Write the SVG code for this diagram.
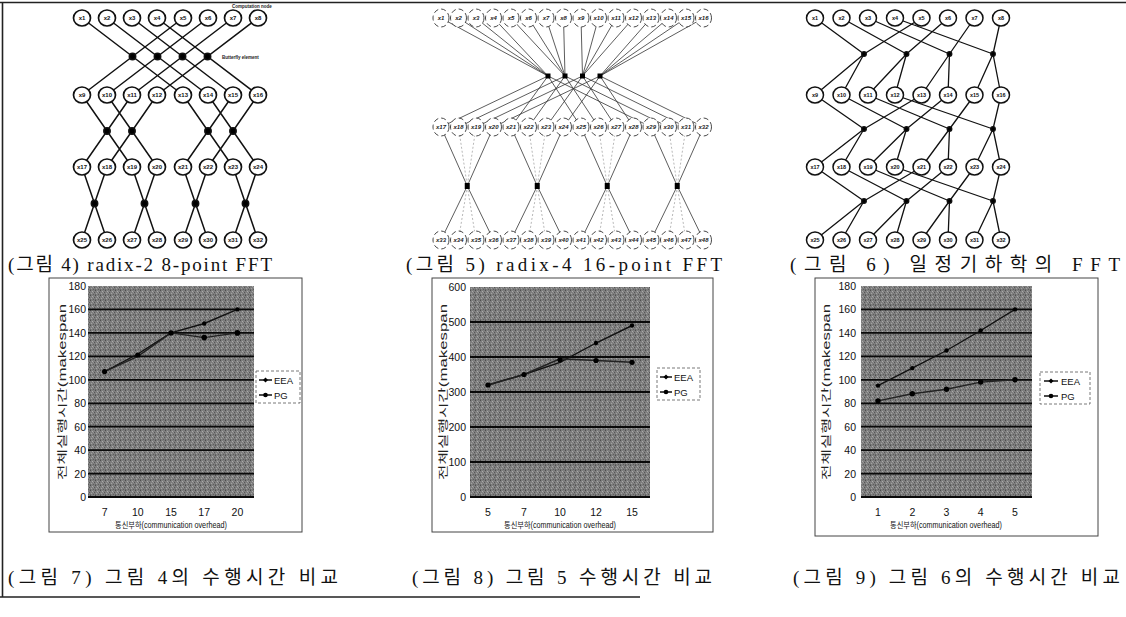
<svg xmlns="http://www.w3.org/2000/svg" width="1126" height="617" viewBox="0 0 1126 617">
<defs>
<pattern id="grain" width="5" height="5" patternUnits="userSpaceOnUse"><rect width="5" height="5" fill="#7e7e7e"/><rect x="0" y="0" width="1" height="1" fill="#4e4e4e"/><rect x="2" y="1" width="1" height="1" fill="#ababab"/><rect x="4" y="2" width="1" height="1" fill="#555"/><rect x="1" y="3" width="1" height="1" fill="#a2a2a2"/><rect x="3" y="4" width="1" height="1" fill="#5e5e5e"/><rect x="3" y="2" width="1" height="1" fill="#959595"/><rect x="0" y="4" width="1" height="1" fill="#666"/></pattern>
</defs>
<style>
.bd{stroke:#222;stroke-width:1.6;fill:none}
.w1{stroke:#111;stroke-width:1.5;fill:none}
.w2{stroke:#333;stroke-width:0.8;fill:none}
.w2i{stroke:#999;stroke-width:0.7;fill:none;stroke-dasharray:2 2}
.w3{stroke:#111;stroke-width:1.3;fill:none}
.c1{fill:#fff;stroke:#111;stroke-width:1.7}
.c2{fill:#fff;stroke:#333;stroke-width:0.9;stroke-dasharray:5 3}
.c3{fill:#fff;stroke:#111;stroke-width:1.5}
.t1{font-family:"Liberation Sans",Arial,sans-serif;font-size:6px;font-weight:bold;text-anchor:middle;fill:#111}
.t2{font-family:"Liberation Sans",Arial,sans-serif;font-size:6px;font-weight:bold;font-style:italic;text-anchor:middle;fill:#222}
.t3{font-family:"Liberation Sans",Arial,sans-serif;font-size:5.5px;font-weight:bold;text-anchor:middle;fill:#111}
.dot{fill:#000}
.cap{font-family:"Liberation Serif","Noto Sans CJK KR",serif;font-size:19px;fill:#111}
.frame{fill:#fff;stroke:#444;stroke-width:1}
.grid{stroke:#0a0a0a;stroke-width:1.8;fill:none}
.yl{font-family:"Liberation Sans",Arial,sans-serif;font-size:10.5px;text-anchor:end;fill:#111}
.xl{font-family:"Liberation Sans",Arial,sans-serif;font-size:10.5px;text-anchor:middle;fill:#111}
.yt{font-family:"Liberation Sans","Noto Sans CJK KR",sans-serif;font-size:10px;text-anchor:middle;fill:#222}
.xt{font-family:"Liberation Sans","Noto Sans CJK KR",sans-serif;font-size:8.5px;text-anchor:middle;fill:#111}
.leg{fill:#fff;stroke:#555;stroke-width:0.8;stroke-dasharray:3 2}
.lt{font-family:"Liberation Sans",Arial,sans-serif;font-size:9.5px;fill:#111}
.s1{stroke:#111;stroke-width:1.4;fill:none}
.s2{stroke:#222;stroke-width:1.4;fill:none}
.tiny{font-family:"Liberation Sans",Arial,sans-serif;font-size:4.5px;font-weight:bold;fill:#222}
</style>
<rect width="1126" height="617" fill="#fff"/>
<g id="border">
<path class="bd" d="M0 2.5H1126 M2.5 2V597 M0 597H640"/>
</g>

<!-- Diagram 1 connectors -->
<g id="d1-edges" class="w1">
<path d="M82 18L183 95 M183 18L82 95 M107 18L208 95 M208 18L107 95 M132 18L233 95 M233 18L132 95 M157 18L258 95 M258 18L157 95"/>
<path d="M82 95L132 167 M132 95L82 167 M107 95L157 167 M157 95L107 167 M183 95L233 167 M233 95L183 167 M208 95L258 167 M258 95L208 167"/>
<path d="M82 167L107 240 M107 167L82 240 M132 167L157 240 M157 167L132 240 M183 167L208 240 M208 167L183 240 M233 167L258 240 M258 167L233 240"/>
<g class="dot"><circle cx="132.5" cy="56.5" r="3.2"/><circle cx="157.5" cy="56.5" r="3.2"/><circle cx="182.5" cy="56.5" r="3.2"/><circle cx="207.5" cy="56.5" r="3.2"/><circle cx="107" cy="131" r="3.2"/><circle cx="132" cy="131" r="3.2"/><circle cx="208" cy="131" r="3.2"/><circle cx="233" cy="131" r="3.2"/><circle cx="94.5" cy="203.5" r="3.2"/><circle cx="144.5" cy="203.5" r="3.2"/><circle cx="195.5" cy="203.5" r="3.2"/><circle cx="245.5" cy="203.5" r="3.2"/></g>
</g>
<text class="tiny" x="222" y="58.5">Butterfly element</text>
<text class="tiny" x="232" y="8">Computation node</text>

<!-- Diagram 1 nodes -->
<g id="d1-x1"><ellipse class="c1" cx="82" cy="18" rx="8.5" ry="8"/><text class="t1" x="82" y="20">x1</text></g>
<g id="d1-x2"><ellipse class="c1" cx="107" cy="18" rx="8.5" ry="8"/><text class="t1" x="107" y="20">x2</text></g>
<g id="d1-x3"><ellipse class="c1" cx="132" cy="18" rx="8.5" ry="8"/><text class="t1" x="132" y="20">x3</text></g>
<g id="d1-x4"><ellipse class="c1" cx="157" cy="18" rx="8.5" ry="8"/><text class="t1" x="157" y="20">x4</text></g>
<g id="d1-x5"><ellipse class="c1" cx="183" cy="18" rx="8.5" ry="8"/><text class="t1" x="183" y="20">x5</text></g>
<g id="d1-x6"><ellipse class="c1" cx="208" cy="18" rx="8.5" ry="8"/><text class="t1" x="208" y="20">x6</text></g>
<g id="d1-x7"><ellipse class="c1" cx="233" cy="18" rx="8.5" ry="8"/><text class="t1" x="233" y="20">x7</text></g>
<g id="d1-x8"><ellipse class="c1" cx="258" cy="18" rx="8.5" ry="8"/><text class="t1" x="258" y="20">x8</text></g>
<g id="d1-x9"><ellipse class="c1" cx="82" cy="95" rx="8.5" ry="8"/><text class="t1" x="82" y="97">x9</text></g>
<g id="d1-x10"><ellipse class="c1" cx="107" cy="95" rx="8.5" ry="8"/><text class="t1" x="107" y="97">x10</text></g>
<g id="d1-x11"><ellipse class="c1" cx="132" cy="95" rx="8.5" ry="8"/><text class="t1" x="132" y="97">x11</text></g>
<g id="d1-x12"><ellipse class="c1" cx="157" cy="95" rx="8.5" ry="8"/><text class="t1" x="157" y="97">x12</text></g>
<g id="d1-x13"><ellipse class="c1" cx="183" cy="95" rx="8.5" ry="8"/><text class="t1" x="183" y="97">x13</text></g>
<g id="d1-x14"><ellipse class="c1" cx="208" cy="95" rx="8.5" ry="8"/><text class="t1" x="208" y="97">x14</text></g>
<g id="d1-x15"><ellipse class="c1" cx="233" cy="95" rx="8.5" ry="8"/><text class="t1" x="233" y="97">x15</text></g>
<g id="d1-x16"><ellipse class="c1" cx="258" cy="95" rx="8.5" ry="8"/><text class="t1" x="258" y="97">x16</text></g>
<g id="d1-x17"><ellipse class="c1" cx="82" cy="167" rx="8.5" ry="8"/><text class="t1" x="82" y="169">x17</text></g>
<g id="d1-x18"><ellipse class="c1" cx="107" cy="167" rx="8.5" ry="8"/><text class="t1" x="107" y="169">x18</text></g>
<g id="d1-x19"><ellipse class="c1" cx="132" cy="167" rx="8.5" ry="8"/><text class="t1" x="132" y="169">x19</text></g>
<g id="d1-x20"><ellipse class="c1" cx="157" cy="167" rx="8.5" ry="8"/><text class="t1" x="157" y="169">x20</text></g>
<g id="d1-x21"><ellipse class="c1" cx="183" cy="167" rx="8.5" ry="8"/><text class="t1" x="183" y="169">x21</text></g>
<g id="d1-x22"><ellipse class="c1" cx="208" cy="167" rx="8.5" ry="8"/><text class="t1" x="208" y="169">x22</text></g>
<g id="d1-x23"><ellipse class="c1" cx="233" cy="167" rx="8.5" ry="8"/><text class="t1" x="233" y="169">x23</text></g>
<g id="d1-x24"><ellipse class="c1" cx="258" cy="167" rx="8.5" ry="8"/><text class="t1" x="258" y="169">x24</text></g>
<g id="d1-x25"><ellipse class="c1" cx="82" cy="240" rx="8.5" ry="8"/><text class="t1" x="82" y="242">x25</text></g>
<g id="d1-x26"><ellipse class="c1" cx="107" cy="240" rx="8.5" ry="8"/><text class="t1" x="107" y="242">x26</text></g>
<g id="d1-x27"><ellipse class="c1" cx="132" cy="240" rx="8.5" ry="8"/><text class="t1" x="132" y="242">x27</text></g>
<g id="d1-x28"><ellipse class="c1" cx="157" cy="240" rx="8.5" ry="8"/><text class="t1" x="157" y="242">x28</text></g>
<g id="d1-x29"><ellipse class="c1" cx="183" cy="240" rx="8.5" ry="8"/><text class="t1" x="183" y="242">x29</text></g>
<g id="d1-x30"><ellipse class="c1" cx="208" cy="240" rx="8.5" ry="8"/><text class="t1" x="208" y="242">x30</text></g>
<g id="d1-x31"><ellipse class="c1" cx="233" cy="240" rx="8.5" ry="8"/><text class="t1" x="233" y="242">x31</text></g>
<g id="d1-x32"><ellipse class="c1" cx="258" cy="240" rx="8.5" ry="8"/><text class="t1" x="258" y="242">x32</text></g>

<!-- Diagram 2 connectors -->
<g id="d2-edges">
<path class="w2" d="M441 18L548 76 M458.5 18L548 76 M476 18L548 76 M493.5 18L548 76 M548 76L441 127 M548 76L511 127 M548 76L581 127 M548 76L651 127 M511 18L565 76 M528.5 18L565 76 M546 18L565 76 M563.5 18L565 76 M565 76L458.5 127 M565 76L528.5 127 M565 76L598.5 127 M565 76L668.5 127 M581 18L582.5 76 M598.5 18L582.5 76 M616 18L582.5 76 M633.5 18L582.5 76 M582.5 76L476 127 M582.5 76L546 127 M582.5 76L616 127 M582.5 76L686 127 M651 18L600 76 M668.5 18L600 76 M686 18L600 76 M703.5 18L600 76 M600 76L493.5 127 M600 76L563.5 127 M600 76L633.5 127 M600 76L703.5 127"/>
<path class="w2" d="M441 127L467.25 186L493.5 240 M493.5 127L467.25 186L441 240 M511 127L537.25 186L563.5 240 M563.5 127L537.25 186L511 240 M581 127L607.25 186L633.5 240 M633.5 127L607.25 186L581 240 M651 127L677.25 186L703.5 240 M703.5 127L677.25 186L651 240"/>
<path class="w2i" d="M458.5 127L467.25 186L476 240 M476 127L467.25 186L458.5 240 M528.5 127L537.25 186L546 240 M546 127L537.25 186L528.5 240 M598.5 127L607.25 186L616 240 M616 127L607.25 186L598.5 240 M668.5 127L677.25 186L686 240 M686 127L677.25 186L668.5 240"/>
<g class="dot"><rect x="545.5" y="73.5" width="5" height="5"/><rect x="562.5" y="73.5" width="5" height="5"/><rect x="580" y="73.5" width="5" height="5"/><rect x="597.5" y="73.5" width="5" height="5"/><rect x="464.75" y="183" width="5" height="6"/><rect x="534.75" y="183" width="5" height="6"/><rect x="604.75" y="183" width="5" height="6"/><rect x="674.75" y="183" width="5" height="6"/></g>
</g>

<!-- Diagram 2 nodes -->
<g id="d2-x1"><ellipse class="c2" cx="441" cy="18" rx="8" ry="9"/><text class="t2" x="441" y="20">x1</text></g>
<g id="d2-x2"><ellipse class="c2" cx="458.5" cy="18" rx="8" ry="9"/><text class="t2" x="458.5" y="20">x2</text></g>
<g id="d2-x3"><ellipse class="c2" cx="476" cy="18" rx="8" ry="9"/><text class="t2" x="476" y="20">x3</text></g>
<g id="d2-x4"><ellipse class="c2" cx="493.5" cy="18" rx="8" ry="9"/><text class="t2" x="493.5" y="20">x4</text></g>
<g id="d2-x5"><ellipse class="c2" cx="511" cy="18" rx="8" ry="9"/><text class="t2" x="511" y="20">x5</text></g>
<g id="d2-x6"><ellipse class="c2" cx="528.5" cy="18" rx="8" ry="9"/><text class="t2" x="528.5" y="20">x6</text></g>
<g id="d2-x7"><ellipse class="c2" cx="546" cy="18" rx="8" ry="9"/><text class="t2" x="546" y="20">x7</text></g>
<g id="d2-x8"><ellipse class="c2" cx="563.5" cy="18" rx="8" ry="9"/><text class="t2" x="563.5" y="20">x8</text></g>
<g id="d2-x9"><ellipse class="c2" cx="581" cy="18" rx="8" ry="9"/><text class="t2" x="581" y="20">x9</text></g>
<g id="d2-x10"><ellipse class="c2" cx="598.5" cy="18" rx="8" ry="9"/><text class="t2" x="598.5" y="20">x10</text></g>
<g id="d2-x11"><ellipse class="c2" cx="616" cy="18" rx="8" ry="9"/><text class="t2" x="616" y="20">x11</text></g>
<g id="d2-x12"><ellipse class="c2" cx="633.5" cy="18" rx="8" ry="9"/><text class="t2" x="633.5" y="20">x12</text></g>
<g id="d2-x13"><ellipse class="c2" cx="651" cy="18" rx="8" ry="9"/><text class="t2" x="651" y="20">x13</text></g>
<g id="d2-x14"><ellipse class="c2" cx="668.5" cy="18" rx="8" ry="9"/><text class="t2" x="668.5" y="20">x14</text></g>
<g id="d2-x15"><ellipse class="c2" cx="686" cy="18" rx="8" ry="9"/><text class="t2" x="686" y="20">x15</text></g>
<g id="d2-x16"><ellipse class="c2" cx="703.5" cy="18" rx="8" ry="9"/><text class="t2" x="703.5" y="20">x16</text></g>
<g id="d2-x17"><ellipse class="c2" cx="441" cy="127" rx="8" ry="9"/><text class="t2" x="441" y="129">x17</text></g>
<g id="d2-x18"><ellipse class="c2" cx="458.5" cy="127" rx="8" ry="9"/><text class="t2" x="458.5" y="129">x18</text></g>
<g id="d2-x19"><ellipse class="c2" cx="476" cy="127" rx="8" ry="9"/><text class="t2" x="476" y="129">x19</text></g>
<g id="d2-x20"><ellipse class="c2" cx="493.5" cy="127" rx="8" ry="9"/><text class="t2" x="493.5" y="129">x20</text></g>
<g id="d2-x21"><ellipse class="c2" cx="511" cy="127" rx="8" ry="9"/><text class="t2" x="511" y="129">x21</text></g>
<g id="d2-x22"><ellipse class="c2" cx="528.5" cy="127" rx="8" ry="9"/><text class="t2" x="528.5" y="129">x22</text></g>
<g id="d2-x23"><ellipse class="c2" cx="546" cy="127" rx="8" ry="9"/><text class="t2" x="546" y="129">x23</text></g>
<g id="d2-x24"><ellipse class="c2" cx="563.5" cy="127" rx="8" ry="9"/><text class="t2" x="563.5" y="129">x24</text></g>
<g id="d2-x25"><ellipse class="c2" cx="581" cy="127" rx="8" ry="9"/><text class="t2" x="581" y="129">x25</text></g>
<g id="d2-x26"><ellipse class="c2" cx="598.5" cy="127" rx="8" ry="9"/><text class="t2" x="598.5" y="129">x26</text></g>
<g id="d2-x27"><ellipse class="c2" cx="616" cy="127" rx="8" ry="9"/><text class="t2" x="616" y="129">x27</text></g>
<g id="d2-x28"><ellipse class="c2" cx="633.5" cy="127" rx="8" ry="9"/><text class="t2" x="633.5" y="129">x28</text></g>
<g id="d2-x29"><ellipse class="c2" cx="651" cy="127" rx="8" ry="9"/><text class="t2" x="651" y="129">x29</text></g>
<g id="d2-x30"><ellipse class="c2" cx="668.5" cy="127" rx="8" ry="9"/><text class="t2" x="668.5" y="129">x30</text></g>
<g id="d2-x31"><ellipse class="c2" cx="686" cy="127" rx="8" ry="9"/><text class="t2" x="686" y="129">x31</text></g>
<g id="d2-x32"><ellipse class="c2" cx="703.5" cy="127" rx="8" ry="9"/><text class="t2" x="703.5" y="129">x32</text></g>
<g id="d2-x33"><ellipse class="c2" cx="441" cy="240" rx="8" ry="9"/><text class="t2" x="441" y="242">x33</text></g>
<g id="d2-x34"><ellipse class="c2" cx="458.5" cy="240" rx="8" ry="9"/><text class="t2" x="458.5" y="242">x34</text></g>
<g id="d2-x35"><ellipse class="c2" cx="476" cy="240" rx="8" ry="9"/><text class="t2" x="476" y="242">x35</text></g>
<g id="d2-x36"><ellipse class="c2" cx="493.5" cy="240" rx="8" ry="9"/><text class="t2" x="493.5" y="242">x36</text></g>
<g id="d2-x37"><ellipse class="c2" cx="511" cy="240" rx="8" ry="9"/><text class="t2" x="511" y="242">x37</text></g>
<g id="d2-x38"><ellipse class="c2" cx="528.5" cy="240" rx="8" ry="9"/><text class="t2" x="528.5" y="242">x38</text></g>
<g id="d2-x39"><ellipse class="c2" cx="546" cy="240" rx="8" ry="9"/><text class="t2" x="546" y="242">x39</text></g>
<g id="d2-x40"><ellipse class="c2" cx="563.5" cy="240" rx="8" ry="9"/><text class="t2" x="563.5" y="242">x40</text></g>
<g id="d2-x41"><ellipse class="c2" cx="581" cy="240" rx="8" ry="9"/><text class="t2" x="581" y="242">x41</text></g>
<g id="d2-x42"><ellipse class="c2" cx="598.5" cy="240" rx="8" ry="9"/><text class="t2" x="598.5" y="242">x42</text></g>
<g id="d2-x43"><ellipse class="c2" cx="616" cy="240" rx="8" ry="9"/><text class="t2" x="616" y="242">x43</text></g>
<g id="d2-x44"><ellipse class="c2" cx="633.5" cy="240" rx="8" ry="9"/><text class="t2" x="633.5" y="242">x44</text></g>
<g id="d2-x45"><ellipse class="c2" cx="651" cy="240" rx="8" ry="9"/><text class="t2" x="651" y="242">x45</text></g>
<g id="d2-x46"><ellipse class="c2" cx="668.5" cy="240" rx="8" ry="9"/><text class="t2" x="668.5" y="242">x46</text></g>
<g id="d2-x47"><ellipse class="c2" cx="686" cy="240" rx="8" ry="9"/><text class="t2" x="686" y="242">x47</text></g>
<g id="d2-x48"><ellipse class="c2" cx="703.5" cy="240" rx="8" ry="9"/><text class="t2" x="703.5" y="242">x48</text></g>

<!-- Diagram 3 connectors -->
<g id="d3-edges" class="w3">
<path d="M815 18L864 54 M921.5 18L864 54 M864 54L815 95 M864 54L841.5 95 M841.5 18L906.5 54 M948 18L906.5 54 M906.5 54L868 95 M906.5 54L895 95 M868 18L949.5 54 M974.5 18L949.5 54 M949.5 54L921.5 95 M949.5 54L948 95 M895 18L993 54 M1001 18L993 54 M993 54L974.5 95 M993 54L1001 95"/>
<path d="M815 95L864 129 M921.5 95L864 129 M864 129L815 167 M864 129L841.5 167 M841.5 95L906.5 129 M948 95L906.5 129 M906.5 129L868 167 M906.5 129L895 167 M868 95L949.5 129 M974.5 95L949.5 129 M949.5 129L921.5 167 M949.5 129L948 167 M895 95L993 129 M1001 95L993 129 M993 129L974.5 167 M993 129L1001 167"/>
<path d="M815 167L864 201 M921.5 167L864 201 M864 201L815 240 M864 201L841.5 240 M841.5 167L906.5 201 M948 167L906.5 201 M906.5 201L868 240 M906.5 201L895 240 M868 167L949.5 201 M974.5 167L949.5 201 M949.5 201L921.5 240 M949.5 201L948 240 M895 167L993 201 M1001 167L993 201 M993 201L974.5 240 M993 201L1001 240"/>
<g class="dot"><circle cx="864" cy="54" r="2.3"/><circle cx="906.5" cy="54" r="2.3"/><circle cx="949.5" cy="54" r="2.3"/><circle cx="993" cy="54" r="2.3"/><circle cx="864" cy="129" r="2.3"/><circle cx="906.5" cy="129" r="2.3"/><circle cx="949.5" cy="129" r="2.3"/><circle cx="993" cy="129" r="2.3"/><circle cx="864" cy="201" r="2.3"/><circle cx="906.5" cy="201" r="2.3"/><circle cx="949.5" cy="201" r="2.3"/><circle cx="993" cy="201" r="2.3"/></g>
</g>

<!-- Diagram 3 nodes -->
<g id="d3-x1"><ellipse class="c3" cx="815" cy="18" rx="8.5" ry="8"/><text class="t3" x="815" y="20">x1</text></g>
<g id="d3-x2"><ellipse class="c3" cx="841.5" cy="18" rx="8.5" ry="8"/><text class="t3" x="841.5" y="20">x2</text></g>
<g id="d3-x3"><ellipse class="c3" cx="868" cy="18" rx="8.5" ry="8"/><text class="t3" x="868" y="20">x3</text></g>
<g id="d3-x4"><ellipse class="c3" cx="895" cy="18" rx="8.5" ry="8"/><text class="t3" x="895" y="20">x4</text></g>
<g id="d3-x5"><ellipse class="c3" cx="921.5" cy="18" rx="8.5" ry="8"/><text class="t3" x="921.5" y="20">x5</text></g>
<g id="d3-x6"><ellipse class="c3" cx="948" cy="18" rx="8.5" ry="8"/><text class="t3" x="948" y="20">x6</text></g>
<g id="d3-x7"><ellipse class="c3" cx="974.5" cy="18" rx="8.5" ry="8"/><text class="t3" x="974.5" y="20">x7</text></g>
<g id="d3-x8"><ellipse class="c3" cx="1001" cy="18" rx="8.5" ry="8"/><text class="t3" x="1001" y="20">x8</text></g>
<g id="d3-x9"><ellipse class="c3" cx="815" cy="95" rx="8.5" ry="8"/><text class="t3" x="815" y="97">x9</text></g>
<g id="d3-x10"><ellipse class="c3" cx="841.5" cy="95" rx="8.5" ry="8"/><text class="t3" x="841.5" y="97">x10</text></g>
<g id="d3-x11"><ellipse class="c3" cx="868" cy="95" rx="8.5" ry="8"/><text class="t3" x="868" y="97">x11</text></g>
<g id="d3-x12"><ellipse class="c3" cx="895" cy="95" rx="8.5" ry="8"/><text class="t3" x="895" y="97">x12</text></g>
<g id="d3-x13"><ellipse class="c3" cx="921.5" cy="95" rx="8.5" ry="8"/><text class="t3" x="921.5" y="97">x13</text></g>
<g id="d3-x14"><ellipse class="c3" cx="948" cy="95" rx="8.5" ry="8"/><text class="t3" x="948" y="97">x14</text></g>
<g id="d3-x15"><ellipse class="c3" cx="974.5" cy="95" rx="8.5" ry="8"/><text class="t3" x="974.5" y="97">x15</text></g>
<g id="d3-x16"><ellipse class="c3" cx="1001" cy="95" rx="8.5" ry="8"/><text class="t3" x="1001" y="97">x16</text></g>
<g id="d3-x17"><ellipse class="c3" cx="815" cy="167" rx="8.5" ry="8"/><text class="t3" x="815" y="169">x17</text></g>
<g id="d3-x18"><ellipse class="c3" cx="841.5" cy="167" rx="8.5" ry="8"/><text class="t3" x="841.5" y="169">x18</text></g>
<g id="d3-x19"><ellipse class="c3" cx="868" cy="167" rx="8.5" ry="8"/><text class="t3" x="868" y="169">x19</text></g>
<g id="d3-x20"><ellipse class="c3" cx="895" cy="167" rx="8.5" ry="8"/><text class="t3" x="895" y="169">x20</text></g>
<g id="d3-x21"><ellipse class="c3" cx="921.5" cy="167" rx="8.5" ry="8"/><text class="t3" x="921.5" y="169">x21</text></g>
<g id="d3-x22"><ellipse class="c3" cx="948" cy="167" rx="8.5" ry="8"/><text class="t3" x="948" y="169">x22</text></g>
<g id="d3-x23"><ellipse class="c3" cx="974.5" cy="167" rx="8.5" ry="8"/><text class="t3" x="974.5" y="169">x23</text></g>
<g id="d3-x24"><ellipse class="c3" cx="1001" cy="167" rx="8.5" ry="8"/><text class="t3" x="1001" y="169">x24</text></g>
<g id="d3-x25"><ellipse class="c3" cx="815" cy="240" rx="8.5" ry="8"/><text class="t3" x="815" y="242">x25</text></g>
<g id="d3-x26"><ellipse class="c3" cx="841.5" cy="240" rx="8.5" ry="8"/><text class="t3" x="841.5" y="242">x26</text></g>
<g id="d3-x27"><ellipse class="c3" cx="868" cy="240" rx="8.5" ry="8"/><text class="t3" x="868" y="242">x27</text></g>
<g id="d3-x28"><ellipse class="c3" cx="895" cy="240" rx="8.5" ry="8"/><text class="t3" x="895" y="242">x28</text></g>
<g id="d3-x29"><ellipse class="c3" cx="921.5" cy="240" rx="8.5" ry="8"/><text class="t3" x="921.5" y="242">x29</text></g>
<g id="d3-x30"><ellipse class="c3" cx="948" cy="240" rx="8.5" ry="8"/><text class="t3" x="948" y="242">x30</text></g>
<g id="d3-x31"><ellipse class="c3" cx="974.5" cy="240" rx="8.5" ry="8"/><text class="t3" x="974.5" y="242">x31</text></g>
<g id="d3-x32"><ellipse class="c3" cx="1001" cy="240" rx="8.5" ry="8"/><text class="t3" x="1001" y="242">x32</text></g>

<!-- Top captions -->
<text class="cap" x="8" y="271" textLength="264" lengthAdjust="spacing">(그림 4) radix-2 8-point FFT</text>
<text class="cap" x="406" y="271" textLength="316" lengthAdjust="spacing">(그림 5) radix-4 16-point FFT</text>
<text class="cap" x="790" y="271" textLength="330" lengthAdjust="spacing">(그림 6) 일정기하학의 FFT</text>

<!-- Chart 1 -->
<g id="chart1">
<rect class="frame" x="49" y="278" width="253" height="254"/>
<rect x="88" y="286" width="166" height="211" fill="url(#grain)"/>
<path class="grid" d="M88 473.6H254 M88 450.1H254 M88 426.7H254 M88 403.3H254 M88 379.8H254 M88 356.3H254 M88 332.9H254 M88 309.4H254 M88 497H254"/>
<g class="yl"><text x="86" y="290">180</text><text x="86" y="313">160</text><text x="86" y="337">140</text><text x="86" y="360">120</text><text x="86" y="384">100</text><text x="86" y="407">80</text><text x="86" y="431">60</text><text x="86" y="454">40</text><text x="86" y="478">20</text><text x="86" y="501">0</text></g>
<g class="xl"><text x="104.6" y="516">7</text><text x="137.8" y="516">10</text><text x="171" y="516">15</text><text x="204.2" y="516">17</text><text x="237.4" y="516">20</text></g>
<text class="yt" transform="translate(66 392) rotate(-90)" textLength="176" lengthAdjust="spacingAndGlyphs">전체실행시간(makespan</text>
<text class="xt" x="171" y="528" textLength="112" lengthAdjust="spacingAndGlyphs">통신부하(communication overhead)</text>
<path class="s1" d="M104.6 371.6L137.8 354L171 332.9L204.2 323.5L237.4 309.4"/>
<path class="s2" d="M104.6 371.6L137.8 356.3L171 332.9L204.2 337.6L237.4 332.9"/>
<g class="dot"><circle cx="104.6" cy="371.6" r="2.6"/><circle cx="137.8" cy="355" r="2.6"/><circle cx="171" cy="332.9" r="2.6"/><circle cx="204.2" cy="323.5" r="2.2"/><circle cx="237.4" cy="309.4" r="2.2"/><circle cx="204.2" cy="337.6" r="2.8"/><circle cx="237.4" cy="332.9" r="2.8"/></g>
<rect class="leg" x="256" y="371" width="44" height="32"/>
<path class="s1" d="M259 380H272 M259 395H272"/>
<path class="dot" d="M265.5 377.5L268 380L265.5 382.5L263 380Z"/><circle class="dot" cx="265.5" cy="395" r="2.3"/>
<text class="lt" x="274" y="383.5">EEA</text><text class="lt" x="274" y="398.5">PG</text>
</g>

<!-- Chart 2 -->
<g id="chart2">
<rect class="frame" x="432" y="278" width="281" height="254"/>
<rect x="470" y="287" width="180" height="210" fill="url(#grain)"/>
<path class="grid" d="M470 462H650 M470 427H650 M470 392H650 M470 357H650 M470 322H650 M470 497H650"/>
<g class="yl"><text x="466" y="291">600</text><text x="466" y="326">500</text><text x="466" y="361">400</text><text x="466" y="396">300</text><text x="466" y="431">200</text><text x="466" y="466">100</text><text x="466" y="501">0</text></g>
<g class="xl"><text x="488" y="516">5</text><text x="524" y="516">7</text><text x="560" y="516">10</text><text x="596" y="516">12</text><text x="632" y="516">15</text></g>
<text class="yt" transform="translate(447 392) rotate(-90)" textLength="176" lengthAdjust="spacingAndGlyphs">전체실행시간(makespan</text>
<text class="xt" x="560" y="528" textLength="112" lengthAdjust="spacingAndGlyphs">통신부하(communication overhead)</text>
<path class="s1" d="M488 385L524 374.5L560 362.3L596 343L632 325.5"/>
<path class="s2" d="M488 385L524 374.5L560 358.8L596 360.5L632 362.3"/>
<g class="dot"><circle cx="488" cy="385" r="2.6"/><circle cx="524" cy="374.5" r="2.6"/><circle cx="560" cy="360" r="2.6"/><circle cx="596" cy="343" r="2.2"/><circle cx="632" cy="325.5" r="2.2"/><circle cx="596" cy="360.5" r="2.6"/><circle cx="632" cy="362.3" r="2.6"/></g>
<rect class="leg" x="657" y="368" width="43" height="32"/>
<path class="s1" d="M660 377H672 M660 392H672"/>
<path class="dot" d="M666 374.5L668.5 377L666 379.5L663.5 377Z"/><circle class="dot" cx="666" cy="392" r="2.3"/>
<text class="lt" x="674" y="380.5">EEA</text><text class="lt" x="674" y="395.5">PG</text>
</g>

<!-- Chart 3 -->
<g id="chart3">
<rect class="frame" x="815" y="278" width="283" height="258"/>
<rect x="861" y="286" width="171" height="211" fill="url(#grain)"/>
<path class="grid" d="M861 473.6H1032 M861 450.1H1032 M861 426.7H1032 M861 403.3H1032 M861 379.8H1032 M861 356.3H1032 M861 332.9H1032 M861 309.4H1032 M861 497H1032"/>
<g class="yl"><text x="856" y="290">180</text><text x="856" y="313">160</text><text x="856" y="337">140</text><text x="856" y="360">120</text><text x="856" y="384">100</text><text x="856" y="407">80</text><text x="856" y="431">60</text><text x="856" y="454">40</text><text x="856" y="478">20</text><text x="856" y="501">0</text></g>
<g class="xl"><text x="878" y="516">1</text><text x="912.3" y="516">2</text><text x="946.5" y="516">3</text><text x="980.7" y="516">4</text><text x="1015" y="516">5</text></g>
<text class="yt" transform="translate(830 392) rotate(-90)" textLength="176" lengthAdjust="spacingAndGlyphs">전체실행시간(makespan</text>
<text class="xt" x="946" y="528" textLength="112" lengthAdjust="spacingAndGlyphs">통신부하(communication overhead)</text>
<path class="s1" d="M878 385.6L912.3 368.1L946.5 350.5L980.7 330.5L1015 309.4"/>
<path class="s2" d="M878 400.9L912.3 393.8L946.5 389.2L980.7 382.1L1015 379.8"/>
<g class="dot"><circle cx="878" cy="385.6" r="2.2"/><circle cx="912.3" cy="368.1" r="2.2"/><circle cx="946.5" cy="350.5" r="2.2"/><circle cx="980.7" cy="330.5" r="2.2"/><circle cx="1015" cy="309.4" r="2.2"/><circle cx="878" cy="400.9" r="2.7"/><circle cx="912.3" cy="393.8" r="2.7"/><circle cx="946.5" cy="389.2" r="2.7"/><circle cx="980.7" cy="382.1" r="2.7"/><circle cx="1015" cy="379.8" r="2.7"/></g>
<rect class="leg" x="1040" y="372" width="50" height="32"/>
<path class="s1" d="M1044 381H1058 M1044 396H1058"/>
<path class="dot" d="M1051 378.5L1053.5 381L1051 383.5L1048.5 381Z"/><circle class="dot" cx="1051" cy="396" r="2.3"/>
<text class="lt" x="1061" y="384.5">EEA</text><text class="lt" x="1061" y="399.5">PG</text>
</g>

<!-- Bottom captions -->
<text class="cap" x="8" y="584" textLength="330" lengthAdjust="spacing">(그림 7) 그림 4의 수행시간 비교</text>
<text class="cap" x="412" y="584" textLength="300" lengthAdjust="spacing">(그림 8) 그림 5 수행시간 비교</text>
<text class="cap" x="793" y="584" textLength="327" lengthAdjust="spacing">(그림 9) 그림 6의 수행시간 비교</text>
</svg>
